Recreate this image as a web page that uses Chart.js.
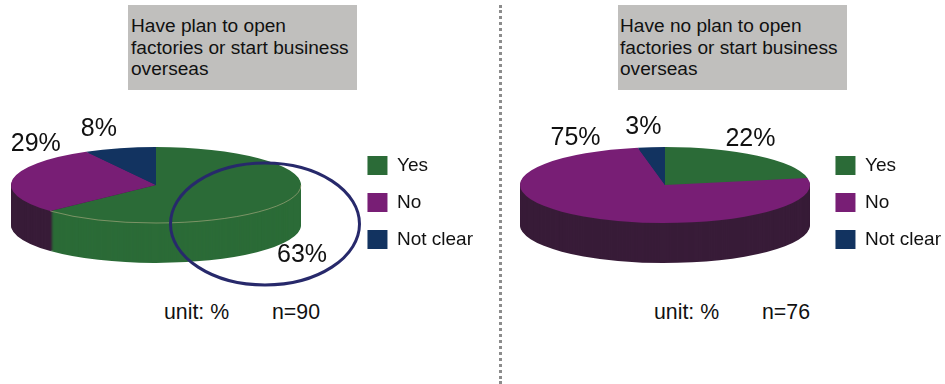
<!DOCTYPE html>
<html>
<head>
<meta charset="utf-8">
<script src="https://cdn.jsdelivr.net/npm/chart.js@4"></script>
<style>
  html, body { margin: 0; padding: 0; background: #fff; }
  body { position: relative; width: 945px; height: 384px; overflow: hidden; font-family: "Liberation Sans", Arial, sans-serif; color: #111; }
  canvas { position: absolute; top: 0; }
  .caption { position: absolute; top: 5px; width: 229px; height: 85px; box-sizing: border-box; padding: 10px 0 0 3px; background: #c0bfbd; font-size: 19.1px; line-height: 21.5px; white-space: nowrap; }
  .note { position: absolute; top: 301px; font-size: 21.3px; line-height: 22px; white-space: nowrap; }
  .divider { position: absolute; left: 499px; top: 5px; height: 379px; width: 0; border-left: 3px dotted #8c8c8c; }
</style>
</head>
<body>
<div class="caption" style="left:128px">Have plan to open<br>factories or start business<br>overseas</div>
<div class="caption" style="left:618px;padding-left:2px">Have no plan to open<br>factories or start business<br>overseas</div>
<div class="divider"></div>
<canvas id="planChart" style="left:0;z-index:1"></canvas>
<canvas id="noPlanChart" style="left:500px;z-index:1"></canvas>
<div class="note" style="left:164px">unit: %</div>
<div class="note" style="left:272px">n=90</div>
<div class="note" style="left:654px">unit: %</div>
<div class="note" style="left:762px">n=76</div>
<script>
const categories = ["Yes", "No", "Not clear"];
const planValues = [63, 29, 8];
const noPlanValues = [22, 75, 3];
const topColors = ["#2b6b37", "#781e75", "#123360"];
const wallColors = ["#2b6b37", "#381c38", "#123360"];

const RADIUS = 145, SQUASH = 38 / 145, DEPTH = 40, CENTER_Y = 185;

// Tilts the doughnut into a flat disc and stacks darker copies of each arc for the side wall.
const tiltedPie = {
  id: "tiltedPie",
  beforeDatasetsDraw(chart, args, opts) {
    const ctx = chart.ctx;
    const arcs = chart.getDatasetMeta(0).data;
    const { x: ax, y: ay } = arcs[0];
    const place = (dy) => {
      ctx.translate(opts.centerX, CENTER_Y + dy);
      ctx.scale(1, SQUASH);
      ctx.translate(-ax, -ay);
    };
    for (let dy = DEPTH; dy >= 0; dy--) {
      arcs.forEach((arc, i) => {
        const layer = Object.create(arc);
        layer.options = {
          backgroundColor: dy === 0 ? topColors[i] : wallColors[i],
          borderColor: "transparent", borderWidth: 0, borderAlign: "center",
          spacing: 0, offset: 0, circular: true, borderRadius: 0
        };
        ctx.save();
        place(dy);
        layer.draw(ctx);
        ctx.restore();
      });
    }
    // Faint rim where the green face meets its wall.
    if (opts.rim) {
      const a = arcs[0];
      ctx.save();
      ctx.strokeStyle = "rgba(190,180,140,0.55)";
      ctx.lineWidth = 1;
      ctx.beginPath();
      ctx.ellipse(opts.centerX, CENTER_Y, RADIUS, RADIUS * SQUASH, 0, 0, a.endAngle);
      ctx.stroke();
      ctx.restore();
    }
    return false;
  },
  afterDraw(chart, args, opts) {
    const ctx = chart.ctx;
    if (opts.ring) {
      ctx.save();
      ctx.strokeStyle = "#27296b";
      ctx.lineWidth = 3;
      ctx.beginPath();
      ctx.ellipse(opts.ring.x, opts.ring.y, opts.ring.rx, opts.ring.ry, 0, 0, Math.PI * 2);
      ctx.stroke();
      ctx.restore();
    }
    // Value labels sit around the rim, from each arc's middle angle.
    const values = chart.data.datasets[0].data;
    ctx.save();
    ctx.fillStyle = "#111";
    ctx.font = '25px "Liberation Sans", Arial, sans-serif';
    ctx.textAlign = "center";
    ctx.textBaseline = "middle";
    chart.getDatasetMeta(0).data.forEach((arc, i) => {
      const mid = (arc.startAngle + arc.endAngle) / 2;
      const x = opts.centerX + Math.cos(mid) * RADIUS + opts.nudges[i][0];
      const y = CENTER_Y + Math.sin(mid) * RADIUS * SQUASH + opts.nudges[i][1];
      ctx.fillText(values[i] + "%", x, y);
    });
    ctx.restore();
  }
};

function makeChart(id, width, values, pieOpts) {
  const canvas = document.getElementById(id);
  canvas.width = width;
  canvas.height = 384;
  canvas.style.width = width + "px";
  canvas.style.height = "384px";
  return new Chart(canvas, {
    type: "doughnut",
    plugins: [tiltedPie],
    data: {
      labels: categories,
      datasets: [{ data: values, backgroundColor: topColors, borderWidth: 0 }]
    },
    options: {
      responsive: false,
      animation: false,
      cutout: 0,
      radius: RADIUS,
      layout: { padding: { top: 21 } },
      plugins: {
        tooltip: { enabled: false },
        tiltedPie: pieOpts,
        legend: {
          position: "right",
          labels: {
            boxWidth: 20, boxHeight: 19, padding: 18, color: "#111",
            font: { family: '"Liberation Sans", Arial, sans-serif', size: 19 }
          }
        }
      }
    }
  });
}

makeChart("planChart", 483, planValues, {
  centerX: 156, rim: true,
  ring: { x: 265, y: 224, rx: 94.5, ry: 61 },
  nudges: [[13, 55], [23, -35], [-21, -19]]
});
makeChart("noPlanChart", 451, noPlanValues, {
  centerX: 165, rim: false,
  nudges: [[-7, -17], [-8, -78], [-8, -20]]
});
</script>
</body>
</html>
